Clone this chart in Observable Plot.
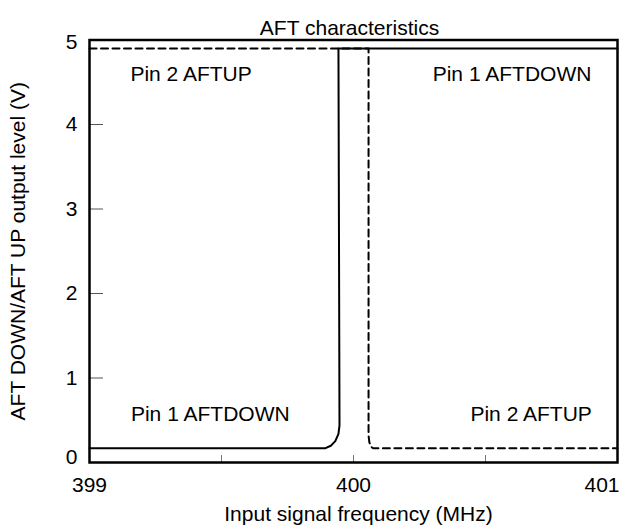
<!DOCTYPE html>
<html><head><meta charset="utf-8">
<script src="https://cdn.jsdelivr.net/npm/d3@7"></script>
<script src="https://cdn.jsdelivr.net/npm/@observablehq/plot@0.6"></script>
<style>body{margin:0;background:#fff} svg{display:block}</style>
</head><body><div id="chart"></div>
<script>
// Pin 1 AFTDOWN (solid)
const freqDown = [399, 399.894, 399.914, 399.931, 399.943, 399.947, 399.943, 401];
const voltDown = [0.17, 0.17, 0.198, 0.253, 0.338, 0.44, 4.9, 4.9];
// Pin 2 AFTUP (dashed)
const freqUp = [399, 400.057, 400.057, 400.060, 400.066, 400.073, 401];
const voltUp = [4.9, 4.9, 0.32, 0.24, 0.19, 0.17, 0.17];
// ticks
const xTickLabels = [399, 400, 401];
const xTickMarks = [399.5, 400, 400.5];
const yTickLabels = [0, 1, 2, 3, 4, 5];
const yTickMarks = [1, 2, 3, 4];
// annotations
const noteText = ["Pin 2 AFTUP", "Pin 1 AFTDOWN", "Pin 1 AFTDOWN", "Pin 2 AFTUP"];
const noteFreq = [399.155, 400.30, 399.157, 400.443];
const noteVolt = [4.60, 4.60, 0.57, 0.57];
const title = "AFT characteristics";
const xLabel = "Input signal frequency (MHz)";
const yLabel = "AFT DOWN/AFT UP output level (V)";

const font = "'Liberation Sans', Arial, sans-serif";
const fs = 21;
const fmt = d3.format("d");
const lineData = (xs, ys) => xs.map((x, i) => ({x, y: ys[i]}));

const chart = Plot.plot({
  width: 628, height: 532,
  marginTop: 39.5, marginBottom: 70, marginLeft: 89, marginRight: 11,
  style: {fontFamily: font, fontSize: fs + "px", color: "#000", background: "#fff"},
  x: {domain: [399, 401]},
  y: {domain: [0, 5]},
  marks: [
    Plot.axisX(xTickMarks, {tickSize: -7, text: null, label: null, stroke: "#777", strokeWidth: 1}),
    Plot.axisY(yTickMarks, {tickSize: -14, text: null, label: null, stroke: "#555", strokeWidth: 1}),
    Plot.axisX(xTickLabels.slice(0, 2), {tickSize: 0, tickPadding: 15, label: null, fontSize: fs, tickFormat: fmt}),
    Plot.axisX(xTickLabels.slice(2), {tickSize: 0, tickPadding: 15, label: null, fontSize: fs, textAnchor: "end", dx: 2, tickFormat: fmt}),
    Plot.axisY(yTickLabels.slice(0, 1), {tickSize: 0, tickPadding: 12, label: null, fontSize: fs, dy: -5, tickFormat: fmt}),
    Plot.axisY(yTickLabels.slice(1, 5), {tickSize: 0, tickPadding: 12, label: null, fontSize: fs, tickFormat: fmt}),
    Plot.axisY(yTickLabels.slice(5), {tickSize: 0, tickPadding: 12, label: null, fontSize: fs, dy: 2, tickFormat: fmt}),
    Plot.line(lineData(freqDown, voltDown), {x: "x", y: "y", stroke: "#000", strokeWidth: 2}),
    Plot.line(lineData(freqUp, voltUp), {x: "x", y: "y", stroke: "#000", strokeWidth: 2, strokeDasharray: "7,4.5"}),
    Plot.frame({stroke: "#000", strokeWidth: 2.5}),
    Plot.text(noteText.map((t, i) => ({t, x: noteFreq[i], y: noteVolt[i]})), {x: "x", y: "y", text: "t", textAnchor: "start", fontSize: fs, fill: "#000"}),
    Plot.text([title], {frameAnchor: "top", dy: -19.5, dx: -4, fontSize: fs, fill: "#000"}),
    Plot.text([xLabel], {frameAnchor: "bottom", dy: 58, dx: 5, fontSize: fs, fill: "#000"}),
    Plot.text([yLabel], {frameAnchor: "left", textAnchor: "middle", dx: -71, rotate: -90, fontSize: fs, fill: "#000"})
  ]
});
document.getElementById("chart").appendChild(chart);
</script>
</body></html>
